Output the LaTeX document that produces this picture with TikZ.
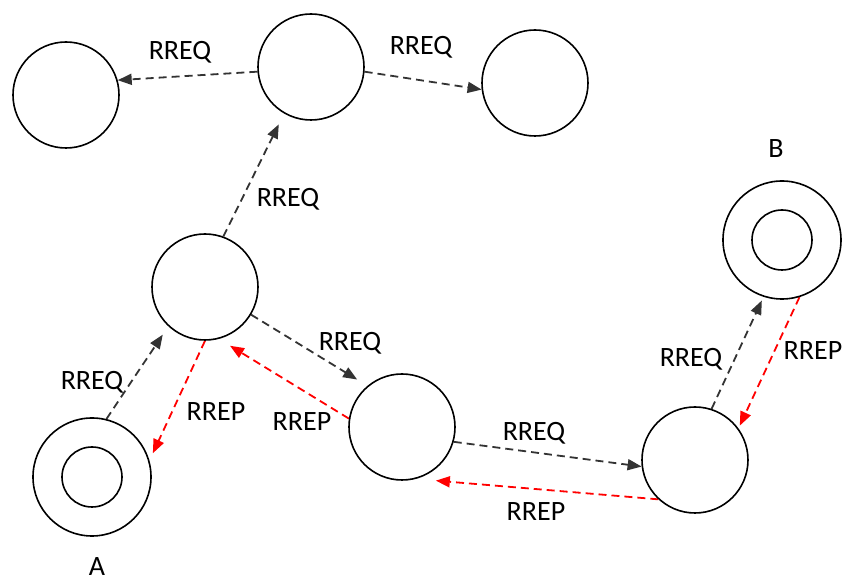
\documentclass[tikz,border=0pt]{standalone}
\usepackage{fontspec}
\setmainfont{Carlito}
\usetikzlibrary{arrows.meta}
\pgfdeclarelayer{bg}
\pgfsetlayers{bg,main}

\begin{document}
\begin{tikzpicture}[x=0.5pt, y=-0.5pt,
    every node/.style={font=\fontsize{14}{16}\selectfont},
    peer/.style={circle, draw, line width=0.8pt, minimum size=53pt, inner sep=0pt},
    host/.style={peer, minimum size=59pt},
    core/.style={peer, minimum size=30pt},
    msg/.style={anchor=base, inner sep=1pt},
    req/.style={draw=black!80, line width=0.9pt, dash pattern=on 4pt off 2.5pt,
        -{Triangle[length=7pt, width=5.5pt]}},
    rep/.style={req, draw=red}]
    \useasboundingbox (0,0) rectangle (843,582);

    \node (n1) [peer] at (66, 95) {};
    \node (n2) [peer] at (311, 67) {};
    \node (n3) [peer] at (535, 83) {};
    \node (n4) [peer] at (205, 287) {};
    \node (n5) [peer] at (402, 427) {};
    \node (n6) [peer] at (695, 460) {};
    \node (A) [host] at (92, 477) {};
    \node (Ai) [core] at (A) {};
    \node (B) [host] at (782, 240) {};
    \node (Bi) [core] at (B) {};

    \node (la) [msg] at (97, 576) {A};
    \node (lb) [msg] at (776, 158) {B};

    \node (q1) [msg] at (180, 60) {RREQ};
    \node (q2) [msg] at (421, 55) {RREQ};
    \node (q3) [msg] at (288, 207) {RREQ};
    \node (q4) [msg] at (92, 390) {RREQ};
    \node (q5) [msg] at (350, 351) {RREQ};
    \node (q6) [msg] at (534, 441) {RREQ};
    \node (q7) [msg] at (691, 367) {RREQ};
    \node (p1) [msg] at (216, 421) {RREP};
    \node (p2) [msg] at (302, 431) {RREP};
    \node (p3) [msg] at (536, 521) {RREP};
    \node (p4) [msg] at (813, 360) {RREP};

    \begin{pgfonlayer}{bg}
        \draw (n2.185) edge[req] (n1.16);
        \draw (n2.355) edge[req] (n3.187);
        \draw (n4.70) edge[req, shorten >=6pt] (n2.240);
        \draw (A.76) edge[req, shorten >=5pt] (n4.227);
        \draw (n4.270) edge[rep, shorten >=4pt] (A.16);
        \draw (n4.329) edge[req, shorten >=6pt] (n5.130);
        \draw (n5.171) edge[rep, shorten >=6.5pt] (n4.285);
        \draw (n5.344) edge[req] (n6.187);
        \draw (n6.227) edge[rep, shorten >=10pt] (n5.285);
        \draw (n6.72) edge[req, shorten >=2pt] (B.252);
        \draw (B.287) edge[rep, shorten >=1.5pt] (n6.36);
    \end{pgfonlayer}
\end{tikzpicture}
\end{document}
